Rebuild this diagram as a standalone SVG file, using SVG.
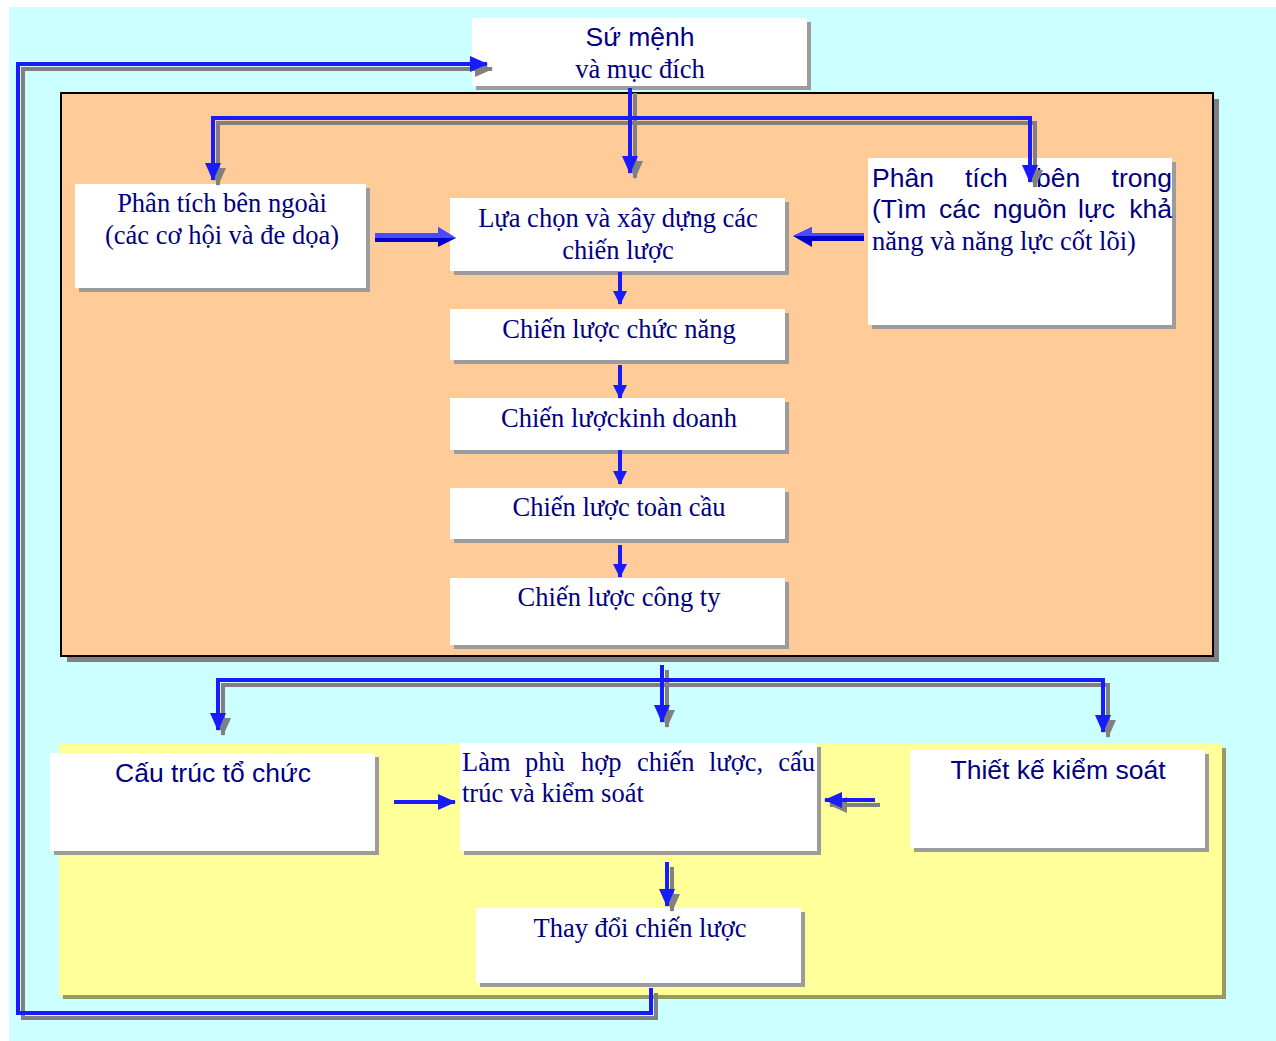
<svg xmlns="http://www.w3.org/2000/svg" width="1276" height="1041" viewBox="0 0 1276 1041">
<defs>
<style>
.box{fill:#FFFFFF}
.sh{fill:#9C9C9C}
.sans{font-family:"Liberation Sans",Arial,sans-serif;font-size:26.5px;fill:#000080}
.serif{font-family:"Liberation Serif","Times New Roman",serif;font-size:26.5px;fill:#000080}
.c{text-anchor:middle}
.ln{fill:none;stroke:#1A1AFF;stroke-width:4}
.lns{fill:none;stroke:#808080;stroke-width:4}
</style>
<marker id="ah" markerUnits="userSpaceOnUse" viewBox="0 0 18 16" markerWidth="18" markerHeight="16" refX="17" refY="8" orient="auto"><path d="M0,0 L18,8 L0,16 z" fill="#1A1AFF"/></marker>
<marker id="ahs" markerUnits="userSpaceOnUse" viewBox="0 0 18 16" markerWidth="18" markerHeight="16" refX="17" refY="8" orient="auto"><path d="M0,0 L18,8 L0,16 z" fill="#808080"/></marker>
<marker id="as" markerUnits="userSpaceOnUse" viewBox="0 0 14 14" markerWidth="14" markerHeight="14" refX="13" refY="7" orient="auto"><path d="M0,0 L14,7 L0,14 z" fill="#1A1AFF"/></marker>
</defs>
<rect x="0" y="0" width="1276" height="1041" fill="#FFFFFF"/>
<rect x="9" y="7" width="1267" height="1034" fill="#CCFFFF"/>
<g id="panel-analysis">
<rect x="67" y="99" width="1152" height="563" fill="#808080"/>
<rect x="61" y="93" width="1152" height="563" fill="#FFCC99" stroke="#000000" stroke-width="2"/>
</g>
<g id="panel-implementation">
<rect x="63" y="748" width="1163" height="251" fill="#999966"/>
<rect x="59" y="744" width="1163" height="251" fill="#FFFF99"/>
</g>
<g id="node-mission">
<rect class="sh" x="476" y="22" width="335" height="68"/>
<rect class="box" x="472" y="18" width="335" height="68"/>
<text class="sans c" x="640" y="46">Sứ mệnh</text>
<text class="serif c" x="640" y="78">và mục đích</text>
</g>
<g id="node-external">
<rect class="sh" x="79" y="188" width="291" height="104"/>
<rect class="box" x="75" y="184" width="291" height="104"/>
<text class="serif c" x="222" y="212">Phân tích bên ngoài</text>
<text class="serif c" x="222" y="244">(các cơ hội và đe dọa)</text>
</g>
<g id="node-choice">
<rect class="sh" x="454" y="202" width="335" height="73"/>
<rect class="box" x="450" y="198" width="335" height="73"/>
<text class="serif c" x="618" y="227">Lựa chọn và xây dựng các</text>
<text class="serif c" x="618" y="259">chiến lược</text>
</g>
<g id="node-internal">
<rect class="sh" x="872" y="162" width="304" height="167"/>
<rect class="box" x="868" y="158" width="304" height="167"/>
<text class="sans"><tspan x="872" y="187">Phân</tspan><tspan x="965" y="187">tích</tspan><tspan x="1036" y="187">bên</tspan><tspan x="1172" y="187" text-anchor="end">trong</tspan></text>
<text class="sans"><tspan x="872" y="218">(Tìm</tspan><tspan x="939" y="218">các</tspan><tspan x="993" y="218">nguồn</tspan><tspan x="1078" y="218">lực</tspan><tspan x="1172" y="218" text-anchor="end">khả</tspan></text>
<text class="serif" x="872" y="250">năng và năng lực cốt lõi)</text>
</g>
<g id="node-functional">
<rect class="sh" x="454" y="313" width="335" height="51"/>
<rect class="box" x="450" y="309" width="335" height="51"/>
<text class="serif c" x="619" y="338">Chiến lược chức năng</text>
</g>
<g id="node-business">
<rect class="sh" x="454" y="402" width="335" height="52"/>
<rect class="box" x="450" y="398" width="335" height="52"/>
<text class="serif c" x="619" y="427">Chiến lượckinh doanh</text>
</g>
<g id="node-global">
<rect class="sh" x="454" y="492" width="335" height="51"/>
<rect class="box" x="450" y="488" width="335" height="51"/>
<text class="serif c" x="619" y="516">Chiến lược toàn cầu</text>
</g>
<g id="node-corporate">
<rect class="sh" x="454" y="582" width="335" height="67"/>
<rect class="box" x="450" y="578" width="335" height="67"/>
<text class="serif c" x="619" y="606">Chiến lược công ty</text>
</g>
<g id="node-structure">
<rect class="sh" x="54" y="757" width="325" height="98"/>
<rect class="box" x="50" y="753" width="325" height="98"/>
<text class="sans c" x="213" y="782">Cấu trúc tổ chức</text>
</g>
<g id="node-fit">
<rect class="sh" x="464" y="747" width="357" height="108"/>
<rect class="box" x="460" y="743" width="357" height="108"/>
<text class="serif"><tspan x="462" y="771">Làm</tspan><tspan x="525" y="771">phù</tspan><tspan x="581" y="771">hợp</tspan><tspan x="637" y="771">chiến</tspan><tspan x="709" y="771">lược,</tspan><tspan x="815" y="771" text-anchor="end">cấu</tspan></text>
<text class="serif" x="462" y="802">trúc và kiểm soát</text>
</g>
<g id="node-control">
<rect class="sh" x="914" y="754" width="295" height="98"/>
<rect class="box" x="910" y="750" width="295" height="98"/>
<text class="sans c" x="1058" y="779">Thiết kế kiểm soát</text>
</g>
<g id="node-change">
<rect class="sh" x="480" y="912" width="325" height="75"/>
<rect class="box" x="476" y="908" width="325" height="75"/>
<text class="serif c" x="640" y="937">Thay đổi chiến lược</text>
</g>
<g id="connectors">
<g transform="translate(5,5)">
<path class="lns" d="M630,88 V173" marker-end="url(#ahs)"/>
<path class="lns" d="M630,118 H213 V180" marker-end="url(#ahs)"/>
<path class="lns" d="M630,118 H1030 V182" marker-end="url(#ahs)"/>
<path class="lns" d="M662,665 V722" marker-end="url(#ahs)"/>
<path class="lns" d="M662,680 H218 V730" marker-end="url(#ahs)"/>
<path class="lns" d="M662,680 H1103 V732" marker-end="url(#ahs)"/>
<path class="lns" d="M651,988 V1013 H18 V64 H487" marker-end="url(#ahs)"/>
<path class="lns" d="M875,800 H825" marker-end="url(#ahs)"/>
<path class="lns" d="M667,862 V906" marker-end="url(#ahs)"/>
</g>
<path class="ln" d="M630,88 V173" marker-end="url(#ah)"/>
<path class="ln" d="M630,118 H213 V180" marker-end="url(#ah)"/>
<path class="ln" d="M630,118 H1030 V182" marker-end="url(#ah)"/>
<path class="ln" d="M662,665 V722" marker-end="url(#ah)"/>
<path class="ln" d="M662,680 H218 V730" marker-end="url(#ah)"/>
<path class="ln" d="M662,680 H1103 V732" marker-end="url(#ah)"/>
<path class="ln" d="M651,988 V1013 H18 V64 H487" marker-end="url(#ah)"/>
<path class="ln" d="M875,800 H825" marker-end="url(#ah)"/>
<path class="ln" d="M667,862 V906" marker-end="url(#ah)"/>
<path class="ln" d="M620,272 V304" marker-end="url(#as)"/>
<path class="ln" d="M620,365 V398" marker-end="url(#as)"/>
<path class="ln" d="M620,450 V484" marker-end="url(#as)"/>
<path class="ln" d="M620,545 V577" marker-end="url(#as)"/>
<path class="ln" d="M394,802 H455" marker-end="url(#ah)"/>
<g id="block-arrow-left">
<path d="M375,233 H438 V227 L456,238 L438,247 V242 H375 z" fill="#0000CC"/>
<path d="M375,233 H438 V227 L456,238 H375 z" fill="#4A4AFF"/>
</g>
<g id="block-arrow-right">
<path d="M864,233 H812 V227 L793,236 L812,247 V241 H864 z" fill="#0000CC"/>
<path d="M864,233 H812 V227 L793,236 H864 z" fill="#4A4AFF"/>
</g>
</g>
</svg>
